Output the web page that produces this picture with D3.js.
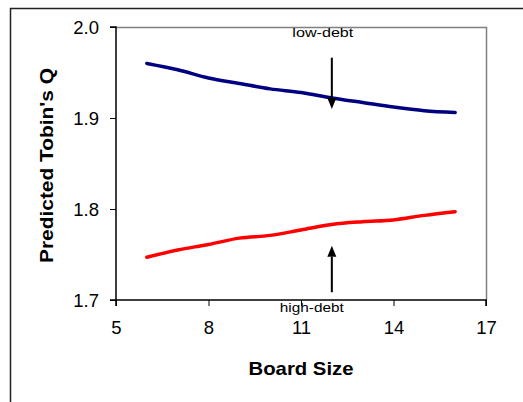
<!DOCTYPE html>
<html>
<head>
<meta charset="utf-8">
<script src="https://cdn.jsdelivr.net/npm/d3@7"></script>
<style>
  html, body { margin: 0; padding: 0; background: #fff; }
  svg { display: block; }
  text { font-family: Arial, "Liberation Sans", sans-serif; }
</style>
</head>
<body>
<svg id="chart" width="523" height="402"></svg>
<script>
const boardSize = [6, 7, 8, 9, 10, 11, 12, 13, 14, 15, 16];
const lowDebt  = [1.960, 1.953, 1.944, 1.938, 1.932, 1.928, 1.922, 1.917, 1.912, 1.908, 1.906];
const highDebt = [1.747, 1.755, 1.761, 1.768, 1.771, 1.777, 1.783, 1.786, 1.788, 1.793, 1.797];
const xTicks = [5, 8, 11, 14, 17];
const yTicks = [1.7, 1.8, 1.9, 2.0];
const annotations = [
  { label: "low-debt", x: 12, from: 1.9663, to: 1.910, labelY: 1.9885, labelDx: -9, labelW: 61 },
  { label: "high-debt", x: 12, from: 1.7085, to: 1.7595, labelY: 1.6866, labelDx: -20, labelW: 64 }
];

const svg = d3.select("#chart");
const W = 523, H = 402;
const m = { left: 116, top: 27, right: 486, bottom: 300 };

// outer frame (partial)
svg.append("line").attr("x1", 10).attr("x2", W).attr("y1", 8.5).attr("y2", 8.5)
  .attr("stroke", "#222").attr("stroke-width", 1.5);
svg.append("line").attr("x1", 10.5).attr("x2", 10.5).attr("y1", 8).attr("y2", H)
  .attr("stroke", "#222").attr("stroke-width", 1.5);

const x = d3.scaleLinear().domain([5, 17]).range([m.left, m.right]);
const y = d3.scaleLinear().domain([1.7, 2.0]).range([m.bottom, m.top]);

// plot frame top/right gray
svg.append("path")
  .attr("d", `M${m.left},${m.top + 0.5}H${m.right + 0.5}V${m.bottom}`)
  .attr("fill", "none").attr("stroke", "#808080").attr("stroke-width", 1.5);

// axes
const xAxis = svg.append("g").attr("transform", `translate(0,${m.bottom})`)
  .call(d3.axisBottom(x).tickValues(xTicks).tickSize(6).tickPadding(15).tickFormat(d3.format("d")));
const yAxis = svg.append("g").attr("transform", `translate(${m.left},0)`)
  .call(d3.axisLeft(y).tickValues(yTicks).tickSize(6).tickPadding(11).tickFormat(d3.format(".1f")));
[xAxis, yAxis].forEach(g => {
  g.select(".domain").attr("stroke", "#000").attr("stroke-width", 1.5);
  g.selectAll(".tick line").attr("stroke", "#000").attr("stroke-width", 1);
  g.selectAll(".tick text").attr("fill", "#000")
    .style("font-family", "Arial, 'Liberation Sans', sans-serif").style("font-size", "18.5px");
});
yAxis.selectAll(".tick text").attr("dy", "0.36em");
yAxis.select(".domain").attr("d", `M-6,${m.top}H0V${m.bottom}H-6`);
xAxis.select(".domain").attr("d", `M${m.left},6V0H${m.right}V6`);

// lines
const line = d3.line().x((d, i) => x(boardSize[i])).y(d => y(d)).curve(d3.curveMonotoneX);
svg.append("path").datum(lowDebt).attr("d", line)
  .attr("fill", "none").attr("stroke", "#000080").attr("stroke-width", 3.5).attr("stroke-linecap", "round");
svg.append("path").datum(highDebt).attr("d", line)
  .attr("fill", "none").attr("stroke", "#ff0000").attr("stroke-width", 3.5).attr("stroke-linecap", "round");

// arrows + labels
annotations.forEach(a => {
  const ax = x(a.x);
  const y0 = y(a.from), y1 = y(a.to);
  const dir = y1 > y0 ? 1 : -1;
  const headLen = 11, headW = 4.5;
  svg.append("line").attr("x1", ax).attr("x2", ax).attr("y1", y0).attr("y2", y1 - dir * headLen)
    .attr("stroke", "#000").attr("stroke-width", 2);
  svg.append("path")
    .attr("d", `M${ax},${y1}L${ax - headW},${y1 - dir * headLen}L${ax + headW},${y1 - dir * headLen}Z`)
    .attr("fill", "#000");
  svg.append("text").attr("x", ax + a.labelDx).attr("y", y(a.labelY))
    .attr("text-anchor", "middle").style("font-size", "13.5px").attr("fill", "#000")
    .attr("textLength", a.labelW).attr("lengthAdjust", "spacingAndGlyphs").text(a.label);
});

// axis titles
svg.append("text").attr("x", x(11)).attr("y", 375).attr("text-anchor", "middle")
  .style("font-size", "18.5px").style("font-weight", "bold")
  .attr("textLength", 105).attr("lengthAdjust", "spacingAndGlyphs").text("Board Size");
svg.append("text").attr("transform", `translate(52.5,${(m.top + m.bottom) / 2 + 2}) rotate(-90)`)
  .attr("text-anchor", "middle").style("font-size", "18.5px").style("font-weight", "bold")
  .attr("textLength", 195).attr("lengthAdjust", "spacingAndGlyphs")
  .text("Predicted Tobin's Q");
</script>
</body>
</html>
